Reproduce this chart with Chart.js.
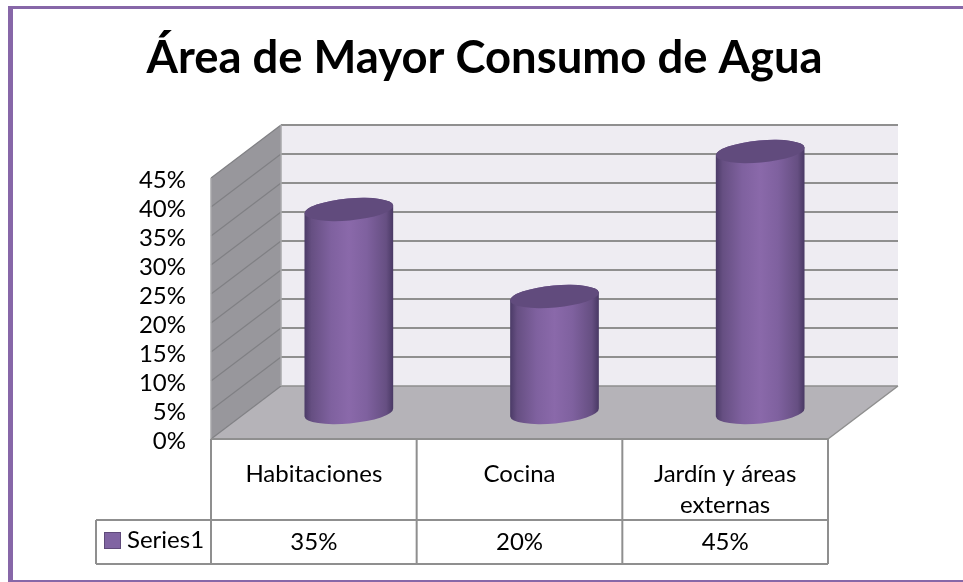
<!DOCTYPE html>
<html lang="es">
<head>
<meta charset="UTF-8">
<title>Área de Mayor Consumo de Agua</title>
<script src="https://cdn.jsdelivr.net/npm/chart.js"></script>
<style>
    html,body{margin:0;padding:0;background:#fff;}
    #box{width:963px;height:582px;}
</style>
</head>
<body>
<div id="box"><canvas id="myChart" width="963" height="582"></canvas></div>
<script>
const titleText = 'Área de Mayor Consumo de Agua';
const categories = ['Habitaciones', 'Cocina', ['Jardín y áreas', 'externas']];
const seriesName = 'Series1';
const values = [35, 20, 45];

const fontName = 'Lato, "Open Sans", sans-serif';
const purple = '#8064a2';
const lineGrey = '#8f8f8f';
// depth of the fake 3d box
const depthX = 70;
const depthY = 53;

const drawRoom = {
    id: 'drawRoom',
    beforeDraw(chart) {
        const c = chart.ctx;
        c.save();
        c.fillStyle = '#fff';
        c.fillRect(0, 0, chart.width, chart.height);
        // outer frame, no right side in the original
        c.fillStyle = '#8767a8';
        c.fillRect(8, 6, chart.width - 8, 3);
        c.fillRect(8, 6, 5, chart.height - 6);
        c.fillRect(8, 580, chart.width - 8, 2);
        c.restore();
    },
    beforeDatasetsDraw(chart) {
        const c = chart.ctx;
        const a = chart.chartArea;
        const y = chart.scales.y;
        const l = a.left, r = a.right, t = a.top, b = a.bottom;
        c.save();
        // back wall
        c.fillStyle = '#eeecf2';
        c.fillRect(l + depthX, t - depthY, r - l, b - t);
        // side wall
        c.fillStyle = '#98979c';
        c.beginPath();
        c.moveTo(l, b); c.lineTo(l, t); c.lineTo(l + depthX, t - depthY); c.lineTo(l + depthX, b - depthY);
        c.closePath(); c.fill();
        // floor
        c.fillStyle = '#b5b3b8';
        c.beginPath();
        c.moveTo(l, b); c.lineTo(l + depthX, b - depthY); c.lineTo(r + depthX, b - depthY); c.lineTo(r, b);
        c.closePath(); c.fill();
        // gridlines from the value scale
        y.ticks.forEach((tick) => {
            const py = y.getPixelForValue(tick.value);
            c.strokeStyle = '#808084';
            c.lineWidth = 1.2;
            c.beginPath();
            c.moveTo(l, py); c.lineTo(l + depthX, py - depthY);
            c.stroke();
            if (tick.value > 0) {
                c.strokeStyle = lineGrey;
                c.lineWidth = 2;
                c.beginPath();
                c.moveTo(l + depthX, py - depthY); c.lineTo(r + depthX, py - depthY);
                c.stroke();
            }
        });
        c.strokeStyle = lineGrey;
        c.lineWidth = 1.5;
        c.beginPath();
        c.moveTo(l + depthX, b - depthY); c.lineTo(r + depthX, b - depthY);
        c.moveTo(r + depthX, b - depthY); c.lineTo(r, b);
        c.stroke();
        c.strokeStyle = '#a8a8aa';
        c.beginPath();
        c.moveTo(l + depthX, t - depthY); c.lineTo(l + depthX, b - depthY);
        c.moveTo(l, t); c.lineTo(l, b);
        c.stroke();
        c.restore();
    },
    afterDraw(chart) {
        const c = chart.ctx;
        const a = chart.chartArea;
        const x = chart.scales.x;
        const tableLeft = 96, rowTop = 520, rowBottom = 564;
        const colW = (a.right - a.left) / categories.length;
        c.save();
        c.strokeStyle = lineGrey;
        c.lineWidth = 2;
        c.beginPath();
        // front edge of floor and table grid
        c.moveTo(a.left, a.bottom); c.lineTo(a.right, a.bottom);
        c.moveTo(tableLeft, rowTop); c.lineTo(a.right, rowTop);
        c.moveTo(tableLeft, rowBottom); c.lineTo(a.right, rowBottom);
        c.moveTo(tableLeft, rowTop); c.lineTo(tableLeft, rowBottom);
        for (let i = 0; i <= categories.length; i++) {
            const px = a.left + colW * i;
            c.moveTo(px, a.bottom); c.lineTo(px, rowBottom);
        }
        c.stroke();
        // table row
        c.fillStyle = '#000';
        c.font = '24px ' + fontName;
        c.textBaseline = 'middle';
        c.textAlign = 'center';
        values.forEach((v, i) => {
            c.fillText(v + '%', x.getPixelForValue(i), 542);
        });
        c.textAlign = 'left';
        c.fillText(seriesName, 127, 540);
        c.fillStyle = purple;
        c.strokeStyle = '#5f4a7a';
        c.lineWidth = 1;
        c.fillRect(104.5, 532.5, 16, 16);
        c.strokeRect(104.5, 532.5, 16, 16);
        c.restore();
    }
};

// cylinders are drawn on the bar elements the library placed
const drawCylinders = {
    id: 'drawCylinders',
    afterDatasetsDraw(chart) {
        const c = chart.ctx;
        const bars = chart.getDatasetMeta(0).data;
        bars.forEach((bar) => {
            const cx = bar.x + depthX / 2;
            const top = bar.y - depthY / 2;
            const base = bar.base - depthY / 2;
            const rx = bar.width / 2;
            const ry = 11;
            const rot = -0.09;
            const g = c.createLinearGradient(cx - rx, 0, cx + rx, 0);
            g.addColorStop(0, '#4a3a66');
            g.addColorStop(0.08, '#664f82');
            g.addColorStop(0.3, '#7f619f');
            g.addColorStop(0.5, '#8a69aa');
            g.addColorStop(0.7, '#7f619f');
            g.addColorStop(0.92, '#664f82');
            g.addColorStop(1, '#483863');
            const dx = rx * Math.cos(rot), dy = rx * Math.sin(rot);
            c.save();
            c.fillStyle = g;
            c.beginPath();
            c.moveTo(cx - dx, top - dy);
            c.lineTo(cx - dx, base - dy);
            c.ellipse(cx, base, rx, ry, rot, Math.PI, 0, true);
            c.lineTo(cx + dx, top + dy);
            c.ellipse(cx, top, rx, ry, rot, 0, Math.PI, true);
            c.closePath();
            c.fill();
            c.fillStyle = '#614b7d';
            c.beginPath();
            c.ellipse(cx, top, rx, ry, rot, 0, Math.PI * 2);
            c.fill();
            c.restore();
        });
    }
};

new Chart(document.getElementById('myChart').getContext('2d'), {
    type: 'bar',
    data: {
        labels: categories,
        datasets: [{
            label: seriesName,
            data: values,
            backgroundColor: 'rgba(0,0,0,0)',
            borderWidth: 0,
            barPercentage: 0.433,
            categoryPercentage: 1
        }]
    },
    options: {
        responsive: false,
        animation: false,
        layout: { padding: { left: 6, right: 0, top: 0, bottom: 0 } },
        plugins: {
            legend: { display: false },
            tooltip: { enabled: false },
            title: {
                display: true,
                text: titleText,
                color: '#000',
                font: { family: fontName, size: 45.4, weight: 'bold' },
                padding: { top: 31, bottom: 92.5 }
            }
        },
        scales: {
            x: {
                grid: { display: false },
                border: { display: false },
                ticks: {
                    color: '#000',
                    font: { family: fontName, size: 24, lineHeight: 1.29 },
                    maxRotation: 0,
                    padding: 12
                },
                afterFit(scale) { scale.height = 143; }
            },
            y: {
                min: 0,
                max: 45,
                grid: { display: false },
                border: { display: false },
                ticks: {
                    stepSize: 5,
                    autoSkip: false,
                    labelOffset: 2,
                    color: '#000',
                    font: { family: fontName, size: 24 },
                    padding: 17,
                    callback: (v) => v + '%'
                },
                afterFit(scale) { scale.width = 205; }
            },
            // keeps room on the right for the depth of the box
            spare: {
                position: 'right',
                display: true,
                grid: { display: false },
                border: { display: false },
                ticks: { display: false },
                afterFit(scale) { scale.width = 135; }
            }
        }
    },
    plugins: [drawRoom, drawCylinders]
});
</script>
</body>
</html>
